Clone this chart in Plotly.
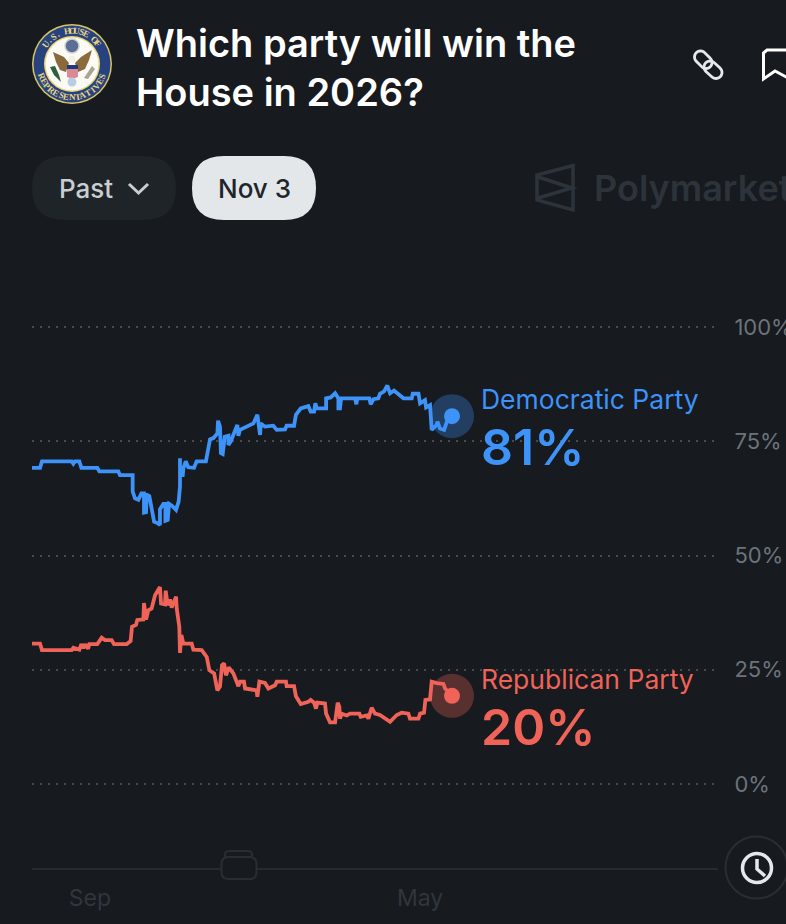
import math
import pandas as pd
import plotly.graph_objects as go

# days counted from 1 Sep 2025, values in percent
dem_days = [-42.5, -36.6, -35.2, -13.4, -12.2, -11, -7.8, -6.3, 5.4, 6.9, 20.8, 22, 31.3, 31.3, 33, 35.5,
            37.7, 39.6, 39.6, 41.1, 41.6, 43.5, 44.5, 46, 47, 49.4, 51.3, 51.3, 53.8, 55.3, 55.3, 57, 58,
            60.1, 63.1, 65, 66, 66, 66, 68, 68.5, 70.2, 72.1, 76.3, 78.2, 85, 86.8, 88, 90.5, 93.4, 93.9,
            95.3, 96, 97.3, 98.8, 101.5, 101.5, 103.4, 108, 108.8, 110, 114.9, 119.8, 122.7, 124.7, 125.2,
            128.3, 134.4, 136.9, 143, 144.2, 149.6, 151, 154.5, 160.1, 161.8, 164.3, 165.2, 166.2, 173.1,
            173.1, 176.5, 179.7, 182.1, 182.1, 183.3, 184.1, 194.3, 195.3, 196, 204.8, 205.8, 207.8, 211.4,
            212.6, 215.6, 218, 220, 222.9, 229.8, 235.9, 236.6, 240.8, 242, 245.6, 246.4, 249.3, 250.5,
            254.2, 254.7, 256.6, 259.6, 262.7, 265.4]
dem_pct = [69.2, 69.2, 70.6, 70.6, 70.1, 70.6, 70.6, 69.2, 69.2, 68.4, 68.4, 67.6, 67.6, 64, 62.5, 62.2,
           63.6, 63.6, 59.4, 59.5, 63.3, 63, 61.4, 59.3, 57.4, 57.1, 56.7, 60.1, 61.3, 61.3, 57.6, 57.8, 61.3,
           60.9, 60, 61.8, 65.1, 71.3, 67.6, 67.6, 69.1, 70.6, 69.3, 69.2, 70.6, 70.6, 73.5, 75.4, 75.7, 76.7, 79.5,
           78.2, 72.4, 72.2, 76, 76.2, 74.2, 75.1, 78.6, 76.2, 77.5, 78.2, 78.9, 80.8, 76.4, 78.9,
           78.2, 78.4, 77.5, 77.6, 78.4, 78.4, 80.8, 82.2, 82.7, 81.5, 81.5, 83.3, 82.2, 82.2,
           84.4, 84.6, 85.5, 84.4, 82.2, 82.2, 84.4, 84.4, 83.1, 84.4, 84.4, 83.1, 84.2, 84.4,
           85.4, 85.9, 87.2, 85.5, 86.1, 84.4, 84.4, 85.4, 85.4, 83.3, 84, 82.4, 82.9, 77.5,
           78.6, 79.3, 77.8, 77.5, 80.2, 80.5]

rep_days = [-42.5, -36.6, -35.2, -13.4, -12.2, -7.8, -6.3, -4.9, -3.6, -1.4, -0.5, 5.4, 8.6, 11, 15.9, 17.6,
            26.9, 29.8, 30.8, 33.7, 34.7, 36.2, 39.1, 39.6, 41.1, 42.8, 45.2, 47.7, 51.3, 52.1, 55, 55.5, 57,
            58.7, 59.9, 63.1, 63.6, 65.5, 66, 67, 68.5, 74.6, 75.8, 81.9, 85.6, 87.5, 91, 93.4, 95.3, 96.8,
            98.3, 99.7, 101.7, 105.1, 108.8, 110, 112.9, 113.7, 122.2, 122.7, 124.2, 128.3, 130.8, 135.7,
            136.9, 143.7, 144.2, 149.6, 151, 154.5, 160.1, 161.8, 164.3, 165.7, 166.7, 172.3, 173.1, 176,
            179.7, 181.6, 182.8, 183.3, 184.5, 188.2, 190.7, 197.5, 198.5, 202.9, 204.1, 206.5, 209, 212.6,
            216.3, 220, 224.9, 228.5, 233.4, 234.6, 240.8, 242, 244.9, 245.9, 249.3, 250.5, 254.2, 259.1,
            260.3, 265.4]
rep_pct = [30.7, 30.7, 29.3, 29.3, 29.8, 29.4, 30.6, 29.7, 30.6, 29.6, 30.6, 30.6, 32, 31.5, 31.5, 30.6,
           30.6, 31.3, 34.4, 34.8, 35.9, 35.9, 36, 39.6, 36, 38, 38.4, 41.3, 43.1, 39.5, 39.3, 42.3, 39.1,
           40.4, 38.6, 41, 38.4, 34.4, 28.7, 32.6, 30.7, 30.7, 29.4, 29.3, 27.8, 24.9, 24.2, 20.5, 21.3, 26,
           26.4, 23.8, 25.5, 24.2, 21.4, 22.4, 22.4, 20.9, 20.5, 19.1, 22.4, 22.1, 20.9, 21.6,
           22.4, 22.4, 21.4, 21.4, 19.2, 17.5, 18, 18.4, 17.8, 16.5, 17.8, 17.6, 15.4, 13.5,
           13.5, 17.8, 16.9, 14.3, 15.4, 15, 15.4, 15.4, 14.7, 15, 14.3, 16.7, 15.4, 15.1,
           14.3, 13.6, 15.1, 15.6, 15.4, 14.3, 14.3, 15.4, 15.6, 18.4, 18.5, 22.4, 22.1, 21.9,
           20.9, 19.3]

y_ticks = [0, 25, 50, 75, 100]
y_tick_labels = ["0%", "25%", "50%", "75%", "100%"]
x_ticks = ["2025-09-01", "2026-05-01"]
x_tick_labels = ["Sep", "May"]

BG = "#171a1f"
BLUE = "#3d93f8"
RED = "#ef6358"
FONT = "Inter"

# pixel box of the plot area in the 786x924 page
L, R, T, B = 32, 718, 322, 868


def fx(x):
    return (x - L) / (R - L)


def fy(y):
    return (B - y) / (B - T)


def poly(points, close=False):
    s = "M" + " L".join(f"{fx(x):.5f},{fy(y):.5f}" for x, y in points)
    return s + (" Z" if close else "")


def rrect(x0, y0, x1, y1, r):
    c = lambda x, y: f"{fx(x):.5f},{fy(y):.5f}"
    return (f"M{c(x0 + r, y0)} L{c(x1 - r, y0)} Q{c(x1, y0)} {c(x1, y0 + r)} L{c(x1, y1 - r)} "
            f"Q{c(x1, y1)} {c(x1 - r, y1)} L{c(x0 + r, y1)} Q{c(x0, y1)} {c(x0, y1 - r)} "
            f"L{c(x0, y0 + r)} Q{c(x0, y0)} {c(x0 + r, y0)} Z")


def capsule(x0, y0, x1, y1, r):
    a = math.atan2(y1 - y0, x1 - x0)
    pts = []
    for i in range(13):
        t = a - math.pi / 2 + math.pi * i / 12
        pts.append((x1 + r * math.cos(t), y1 + r * math.sin(t)))
    for i in range(13):
        t = a + math.pi / 2 + math.pi * i / 12
        pts.append((x0 + r * math.cos(t), y0 + r * math.sin(t)))
    return poly(pts, True)


shapes = []


def add_path(path, fill="rgba(0,0,0,0)", line=None, width=0):
    shapes.append(dict(type="path", xref="paper", yref="paper", path=path, fillcolor=fill,
                       line=dict(color=line or "rgba(0,0,0,0)", width=width)))


def add_circle(cx, cy, r, fill="rgba(0,0,0,0)", line=None, width=0):
    shapes.append(dict(type="circle", xref="paper", yref="paper", x0=fx(cx - r), x1=fx(cx + r),
                       y0=fy(cy + r), y1=fy(cy - r), fillcolor=fill,
                       line=dict(color=line or "rgba(0,0,0,0)", width=width)))


annotations = []


def label(text, x, y, size, color, anchor="left", weight=400, angle=0, family=FONT):
    annotations.append(dict(text=text, xref="paper", yref="paper", x=fx(x), y=fy(y), xanchor=anchor,
                            yanchor="middle", showarrow=False, textangle=angle,
                            font=dict(family=family, size=size, color=color, weight=weight)))


# seal
add_circle(72, 64, 40, "#d9c566")
add_circle(72, 64, 38.5, "#27437f")
add_circle(72, 64, 28, "#e6d477")
add_circle(72, 64, 26.5, "#fbfaf4")
add_circle(72, 46, 7, "#5b6f96", "#cfd3cf", 1.5)
add_path(poly([(53, 52), (64, 57), (69, 63), (66, 72), (60, 70), (56, 62)], True), "#8a6a3d")
add_path(poly([(92, 50), (81, 57), (75, 63), (78, 72), (85, 69), (89, 60)], True), "#8a6a3d")
add_circle(72, 59, 3.5, "#f2f0e8")
add_path(poly([(67, 65), (78, 65), (78, 69), (67, 69)], True), "#1f3a7a")
add_path(poly([(67, 69), (78, 69), (78, 77), (72.5, 79), (67, 77)], True), "#d98a96")
add_path(poly([(50, 67), (55, 66), (59, 75), (61, 82), (54, 75)], True), "#2f5f3d")
add_path(poly([(84, 78), (92, 66), (95, 69), (88, 79)], True), "#a9a593")
add_circle(72, 82, 4.5, "#b9cfe0")
for txt, a0, a1, top in (("U.S. HOUSE OF", -142, -38, True), ("REPRESENTATIVES", 158, 22, False)):
    for i, ch in enumerate(txt):
        ang = a0 + (a1 - a0) * i / (len(txt) - 1)
        x = 72 + 33 * math.cos(math.radians(ang))
        y = 64 + 33 * math.sin(math.radians(ang))
        rot = ang + 90 if top else ang - 90
        annotations.append(dict(text=ch, xref="paper", yref="paper", x=fx(x), y=fy(y), xanchor="center",
                                yanchor="middle", showarrow=False, textangle=rot,
                                font=dict(family="Liberation Serif", size=9, color="#e9d67f", weight=700)))

# link and bookmark icons
add_path(capsule(700.5, 57, 706, 62.5, 6), line="#e6e9ec", width=2.8)
add_path(capsule(710, 67, 716, 72.5, 6), line="#e6e9ec", width=2.8)
add_path(poly([(795, 50), (767, 50), (763.5, 53), (763.5, 79), (775, 71), (790, 79)]), line="#ffffff", width=3)

# buttons
add_path(rrect(32, 156, 176, 220, 32), "#1f2428")
add_path(rrect(192, 156, 316, 220, 32), "#e4e7ea")
add_path(poly([(129, 184), (138.5, 193), (148, 184)]), line="#c9ced3", width=3)
label("Past", 57, 188, 26, "#c9ced3", weight=500)
label("Nov 3", 254, 188, 26, "#20252a", anchor="center", weight=500)

# watermark
WM = "#2c333b"
add_path(poly([(537, 175), (573, 165.5), (573, 210), (537, 200)], True), line=WM, width=3.5)
add_path(poly([(538, 177), (572, 188), (538, 198)]), line=WM, width=3.5)
label("Polymarket", 592, 188, 36, WM, weight=600)

# time scrubber handle and clock button
add_path(rrect(225, 851, 252, 862, 4), BG, "#2a2e33", 2)
add_path(rrect(221.5, 857, 256.5, 879, 7), BG, "#2a2e33", 2)
add_circle(756.5, 867.5, 31, BG, "#2a2e33", 2)
add_circle(757, 868, 14.5, line="#e6e9ec", width=3.5)
add_path(poly([(757, 859), (757, 869), (765, 876)]), line="#e6e9ec", width=3.5)

# series labels
label("Democratic Party", 479, 399, 26.5, BLUE)
label("81%", 479, 447, 50, BLUE, weight=600)
label("Republican Party", 479, 679, 26.5, RED)
label("20%", 479, 727, 50, RED, weight=600)

origin = pd.Timestamp("2025-09-01")


def to_dates(days):
    return origin + pd.to_timedelta(days, unit="D")


fig = go.Figure()
for days, pct, color, name in ((dem_days, dem_pct, BLUE, "Democratic Party"),
                               (rep_days, rep_pct, RED, "Republican Party")):
    fig.add_trace(go.Scatter(x=to_dates(days), y=pct, mode="lines", name=name,
                             line=dict(color=color, width=3.8), showlegend=False, hoverinfo="skip"))
    fig.add_trace(go.Scatter(x=to_dates(days[-1:]), y=pct[-1:], mode="markers", showlegend=False, hoverinfo="skip",
                             marker=dict(color=color, size=44, opacity=0.3, line=dict(width=0))))
    fig.add_trace(go.Scatter(x=to_dates(days[-1:]), y=pct[-1:], mode="markers", showlegend=False, hoverinfo="skip",
                             marker=dict(color=color, size=16, line=dict(width=0))))

fig.update_layout(
    width=786, height=924, autosize=False,
    margin=dict(l=L, r=786 - R, t=T, b=924 - B, autoexpand=False),
    paper_bgcolor=BG, plot_bgcolor=BG,
    title=dict(text="Which party will win the<br>House in 2026?", x=136 / 786, xanchor="left",
               y=1 - 57 / 924, yanchor="top",
               font=dict(family=FONT, size=38, color="#ffffff", weight=600)),
    shapes=shapes, annotations=annotations,
    xaxis=dict(type="date", range=[to_dates([-42.5])[0], to_dates([460.4])[0]],
               tickvals=x_ticks, ticktext=x_tick_labels, showgrid=False, zeroline=False,
               showline=True, linecolor="#272b30", linewidth=2, ticks="outside", ticklen=8, tickcolor=BG,
               tickfont=dict(family=FONT, size=23, color="#30363d")),
    yaxis=dict(range=[-18.38, 101.1], side="right", tickvals=y_ticks, ticktext=y_tick_labels,
               showgrid=True, gridcolor="#454a50", griddash="2px,6px", gridwidth=1.5, zeroline=False,
               showline=False, ticks="outside", ticklen=11, tickcolor="rgba(0,0,0,0)",
               tickfont=dict(family=FONT, size=22, color="#6b737c")),
)

fig.write_html("out.html", config=dict(displayModeBar=False),
               post_script="document.body.style.margin='0';document.body.style.overflow='hidden';")
